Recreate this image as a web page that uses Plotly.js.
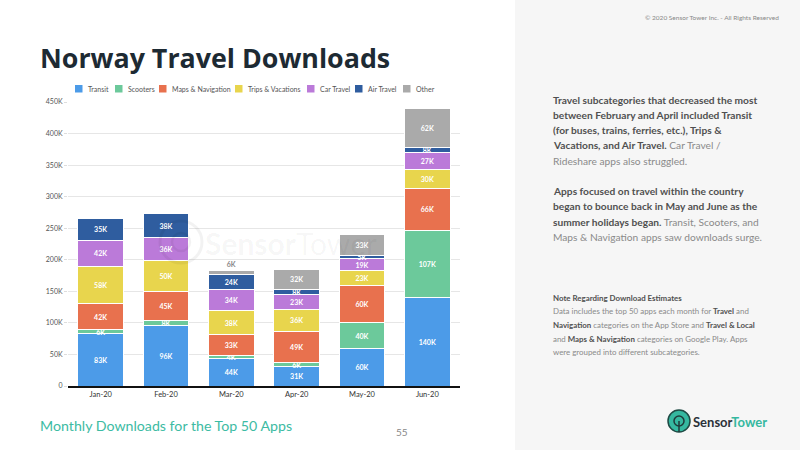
<!DOCTYPE html>
<html>
<head>
<meta charset="utf-8">
<script src="https://cdn.plot.ly/plotly-3.0.1.min.js"></script>
<style>
  html, body { margin: 0; padding: 0; background: #ffffff; }
  #chart { width: 800px; height: 450px; }
</style>
</head>
<body>
<div id="chart"></div>
<script>
// Monthly downloads (thousands) for the top 50 travel apps in Norway
const months = ['Jan-20', 'Feb-20', 'Mar-20', 'Apr-20', 'May-20', 'Jun-20'];

const transit   = [83, 96, 44, 31, 60, 140];
const scooters  = [6, 8, 4, 6, 40, 107];
const mapsNav   = [42, 45, 33, 49, 60, 66];
const trips     = [58, 50, 38, 36, 23, 30];
const carTravel = [42, 36, 34, 23, 19, 27];
const airTravel = [35, 38, 24, 8, 5, 8];
const other     = [0, 0, 6, 32, 33, 62];

const yTickVals  = [0, 50, 100, 150, 200, 250, 300, 350, 400, 450];
const yTickTexts = ['0', '50K', '100K', '150K', '200K', '250K', '300K', '350K', '400K', '450K'];

const seriesDefs = [
  { name: 'Transit',            values: transit,   color: '#4c9be8' },
  { name: 'Scooters',           values: scooters,  color: '#6cc99b' },
  { name: 'Maps & Navigation',  values: mapsNav,   color: '#e8714e' },
  { name: 'Trips & Vacations',  values: trips,     color: '#e8d54d' },
  { name: 'Car Travel',         values: carTravel, color: '#bb7ad9' },
  { name: 'Air Travel',         values: airTravel, color: '#2f5d9f' },
  { name: 'Other',              values: other,     color: '#aaaaaa' }
];

// left edge (px) of each key swatch in the compact legend row
const legendSwatchX = [75, 115, 159, 235, 307, 355, 403];

const FONT = 'Lato, "Noto Sans", sans-serif';

const traces = seriesDefs.map(s => {
  const isOther = s.name === 'Other';
  return {
    type: 'bar',
    name: s.name,
    x: months,
    y: s.values,
    text: s.values.map(v => v > 0 ? v + 'K' : ''),
    textposition: isOther
      ? s.values.map(v => v > 0 && v < 10 ? 'outside' : 'inside')
      : 'inside',
    insidetextanchor: 'middle',
    constraintext: 'none',
    textangle: 0,
    cliponaxis: false,
    textfont: { family: FONT, size: 7, color: '#ffffff', weight: 'bold' },
    insidetextfont: { family: FONT, size: 7, color: '#ffffff', weight: 'bold' },
    outsidetextfont: { family: FONT, size: 7, color: '#888888', weight: 'bold' },
    marker: { color: s.color, line: { color: '#ffffff', width: 1 } },
    showlegend: false,
    hoverinfo: 'x+y+name'
  };
});

// helpers for page-level coordinates given in pixels
const px = v => v / 800;
const py = v => 1 - v / 450;

function textLine(x, y, text, size, color, extra) {
  return Object.assign({
    xref: 'paper', yref: 'paper', x: px(x), y: py(y),
    xanchor: 'left', yanchor: 'middle', showarrow: false,
    text: text, font: { family: FONT, size: size, color: color }
  }, extra || {});
}

const B = t => '<span style="color:#505050"><b>' + t + '</b></span>';

const sideLines = [
  [100, B('Travel subcategories that decreased the most')],
  [115, B('between February and April included Transit')],
  [130, B('(for buses, trains, ferries, etc.), Trips &')],
  [145.5, B('Vacations, and Air Travel.') + ' Car Travel /'],
  [161, 'Rideshare apps also struggled.'],
  [191, B('Apps focused on travel within the country')],
  [206, B('began to bounce back in May and June as the')],
  [221.5, B('summer holidays began.') + ' Transit, Scooters, and'],
  [237, 'Maps & Navigation apps saw downloads surge.']
];

const noteLines = [
  [297.5, B('Note Regarding Download Estimates')],
  [311, 'Data includes the top 50 apps each month for ' + B('Travel') + ' and'],
  [325, B('Navigation') + ' categories on the App Store and ' + B('Travel & Local')],
  [338.5, 'and ' + B('Maps & Navigation') + ' categories on Google Play. Apps'],
  [352, 'were grouped into different subcategories.']
];

const annotations = [];
const shapes = [
  // right-hand panel
  { type: 'rect', xref: 'paper', yref: 'paper', x0: px(515), x1: 1, y0: 0, y1: 1,
    fillcolor: '#f6f6f6', line: { width: 0 }, layer: 'below' }
];

sideLines.forEach(l => annotations.push(textLine(551, l[0], l[1], 10.2, '#8a8a8a')));
noteLines.forEach(l => annotations.push(textLine(551, l[0], l[1], 7.9, '#8a8a8a')));

// compact legend row: swatch + series name
seriesDefs.forEach((s, i) => {
  const x0 = legendSwatchX[i];
  shapes.push({
    type: 'rect', xref: 'paper', yref: 'paper',
    x0: px(x0), x1: px(x0 + 7.5), y0: py(92.5), y1: py(85),
    fillcolor: s.color, line: { width: 0 }
  });
  annotations.push(textLine(x0 + 10.5, 89, s.name, 7, '#555555'));
});

// page title, subtitle, page number, copyright
annotations.push(textLine(38, 57, '<b>Norway Travel Downloads</b>', 27, '#1d2a33',
  { font: { family: '"Open Sans", sans-serif', size: 26.8, color: '#1d2a33' } }));
annotations.push(textLine(38, 425, 'Monthly Downloads for the Top 50 Apps', 14.2, '#3dbba3'));
annotations.push(textLine(394, 432, '55', 10, '#888888'));
annotations.push({
  xref: 'paper', yref: 'paper', x: px(781), y: py(17), xanchor: 'right', yanchor: 'middle',
  showarrow: false, text: '© 2020 Sensor Tower Inc. - All Rights Reserved',
  font: { family: FONT, size: 6.5, color: '#888888' }
});

// footer logo wordmark
annotations.push(textLine(691, 422,
  '<b><span style="color:#2b3138">Sensor</span><span style="color:#35b8a0">Tower</span></b>',
  13, '#2b3138'));

// faint watermark across the plot
annotations.push(textLine(203, 243,
  '<b>Sensor</b>Tower', 30, 'rgba(0,0,0,0.045)'));

shapes.push(
  // footer logo mark
  { type: 'circle', xref: 'paper', yref: 'paper',
    x0: px(668), x1: px(690), y0: py(432), y1: py(410),
    fillcolor: '#35b8a0', line: { color: '#1f4a44', width: 1.5 } },
  { type: 'circle', xref: 'paper', yref: 'paper',
    x0: px(674), x1: px(684), y0: py(426), y1: py(416),
    fillcolor: 'rgba(0,0,0,0)', line: { color: '#1f3a3a', width: 1.5 } },
  { type: 'line', xref: 'paper', yref: 'paper',
    x0: px(679), x1: px(679), y0: py(421), y1: py(432),
    line: { color: '#1f3a3a', width: 1.5 } },
  // watermark mark
  { type: 'circle', xref: 'paper', yref: 'paper',
    x0: px(160), x1: px(202), y0: py(263), y1: py(221),
    fillcolor: 'rgba(0,0,0,0)', line: { color: 'rgba(0,0,0,0.05)', width: 3 } },
  { type: 'circle', xref: 'paper', yref: 'paper',
    x0: px(172), x1: px(190), y0: py(251), y1: py(233),
    fillcolor: 'rgba(0,0,0,0)', line: { color: 'rgba(0,0,0,0.05)', width: 2.5 } }
);

const layout = {
  width: 800,
  height: 450,
  margin: { l: 0, r: 0, t: 0, b: 0 },
  paper_bgcolor: '#ffffff',
  plot_bgcolor: 'rgba(0,0,0,0)',
  barmode: 'stack',
  bargap: 0.3,
  showlegend: false,
  xaxis: {
    domain: [px(68), px(460)],
    type: 'category',
    showgrid: false,
    showline: true,
    linecolor: '#111111',
    linewidth: 1.5,
    ticks: '',
    tickfont: { family: FONT, size: 7.5, color: '#333333' },
    fixedrange: true
  },
  yaxis: {
    domain: [1 - 386 / 450, 1 - 102 / 450],
    range: [0, 450],
    tickvals: yTickVals,
    ticktext: yTickTexts,
    showgrid: true,
    gridcolor: '#e6e6e6',
    gridwidth: 1,
    zeroline: false,
    showline: false,
    ticks: 'outside',
    ticklen: 3,
    tickcolor: '#dddddd',
    tickfont: { family: FONT, size: 7, color: '#555555' },
    fixedrange: true
  },
  font: { family: FONT },
  annotations: annotations,
  shapes: shapes
};

Plotly.newPlot('chart', traces, layout, { displayModeBar: false, staticPlot: true });
</script>
</body>
</html>
